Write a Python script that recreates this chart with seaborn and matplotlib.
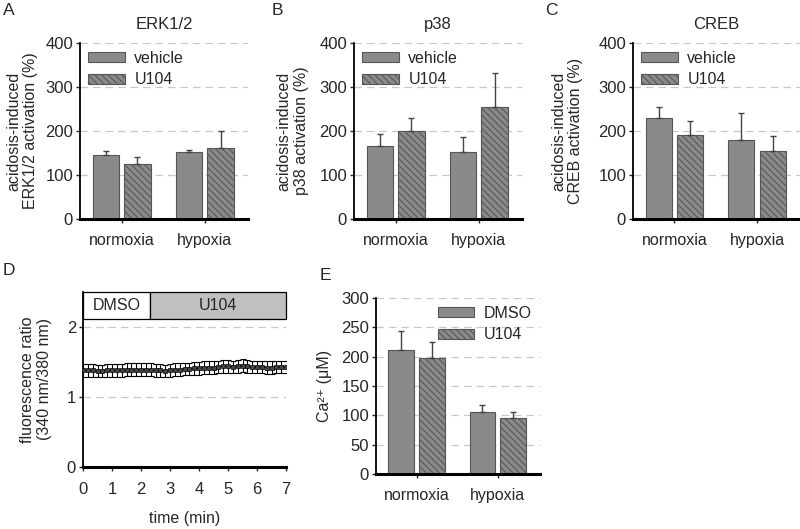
import numpy as np
import pandas as pd
import matplotlib
matplotlib.use('Agg')
import matplotlib.pyplot as plt
from matplotlib.patches import Patch, Rectangle
import seaborn as sns

# bar panels (A-C): acidosis-induced activation (%), mean and upper SEM
conditions = ['normoxia', 'hypoxia']
erk_vehicle = [145, 152]
erk_vehicle_err = [9, 4]
erk_u104 = [125, 161]
erk_u104_err = [15, 39]

p38_vehicle = [167, 152]
p38_vehicle_err = [27, 34]
p38_u104 = [199, 255]
p38_u104_err = [30, 76]

creb_vehicle = [230, 180]
creb_vehicle_err = [24, 61]
creb_u104 = [192, 155]
creb_u104_err = [31, 33]

# panel E: Ca2+ (uM)
ca_dmso = [211, 105]
ca_dmso_err = [33, 12]
ca_u104 = [197, 96]
ca_u104_err = [28, 10]

# panel D: fluorescence ratio time course (every 10 s)
time_min = [0.0, 0.167, 0.333, 0.5, 0.667, 0.833, 1.0, 1.167, 1.333, 1.5, 1.667,
            1.833, 2.0, 2.167, 2.333, 2.5, 2.667, 2.833, 3.0, 3.167, 3.333, 3.5,
            3.667, 3.833, 4.0, 4.167, 4.333, 4.5, 4.667, 4.833, 5.0, 5.167, 5.333,
            5.5, 5.667, 5.833, 6.0, 6.167, 6.333, 6.5, 6.667, 6.833, 7.0]
ratio = [1.38, 1.38, 1.38, 1.37, 1.37, 1.38, 1.38, 1.38, 1.38, 1.39, 1.39,
         1.39, 1.39, 1.39, 1.39, 1.38, 1.38, 1.37, 1.38, 1.39, 1.39, 1.40,
         1.40, 1.41, 1.41, 1.42, 1.42, 1.42, 1.43, 1.44, 1.44, 1.43, 1.44,
         1.45, 1.44, 1.43, 1.43, 1.43, 1.42, 1.42, 1.43, 1.43, 1.43]
ratio_err = [0.09, 0.09, 0.09, 0.09, 0.09, 0.09, 0.09, 0.09, 0.09, 0.09, 0.09,
             0.09, 0.09, 0.09, 0.09, 0.09, 0.09, 0.09, 0.09, 0.09, 0.09, 0.09,
             0.09, 0.09, 0.09, 0.09, 0.09, 0.09, 0.09, 0.09, 0.09, 0.09, 0.09,
             0.09, 0.09, 0.09, 0.09, 0.09, 0.09, 0.09, 0.09, 0.09, 0.09]
phases = ['DMSO', 'U104']
phase_start = [0, 2.3]
phase_end = [2.3, 7]

sns.set_style('white')
plt.rcParams['font.family'] = ['Liberation Sans', 'DejaVu Sans']
plt.rcParams['hatch.linewidth'] = 0.75

BAR = '#8a8a8a'
EDGE = '#555555'
HATCH = '\\\\\\\\\\'
FS = 11.5
TICK_FS = 12

fig = plt.figure(figsize=(8, 5.29), dpi=100)
W, H = 800, 529


def px_axes(left, top, width, height):
    return fig.add_axes([left / W, 1 - (top + height) / H, width / W, height / H])


def style_axes(ax):
    for s in ['top', 'right']:
        ax.spines[s].set_visible(False)
    ax.spines['left'].set_linewidth(1.3)
    ax.spines['left'].set_color('black')
    ax.spines['bottom'].set_linewidth(2.2)
    ax.spines['bottom'].set_color('black')
    ax.yaxis.grid(True, linestyle=(0, (6, 4)), color='#c8c8c8', linewidth=0.9)
    ax.set_axisbelow(True)
    ax.tick_params(axis='y', which='major', left=True, length=3, width=1, pad=2, labelsize=TICK_FS)
    ax.tick_params(axis='x', which='major', bottom=True, length=3, width=1, pad=7, labelsize=FS)


def bar_panel(ax, v1, e1, v2, e2, labels, yticks, ylabel, title, legend_loc):
    df = pd.DataFrame({
        'condition': conditions + conditions,
        'treatment': [labels[0]] * 2 + [labels[1]] * 2,
        'value': v1 + v2,
    })
    sns.barplot(data=df, x='condition', y='value', hue='treatment', order=conditions,
                hue_order=labels, palette=[BAR, BAR], width=0.76, gap=0.17,
                edgecolor=EDGE, linewidth=0.8, errorbar=None, legend=False, ax=ax)
    for container, errs, hatched in zip(ax.containers, [e1, e2], [False, True]):
        for bar, e in zip(container, errs):
            if hatched:
                bar.set_hatch(HATCH)
            x = bar.get_x() + bar.get_width() / 2
            ax.errorbar(x, bar.get_height(), yerr=[[0], [e]], fmt='none',
                        ecolor='#444444', elinewidth=1, capsize=2.2, capthick=1, zorder=3)
    style_axes(ax)
    ax.set_xlim(-0.5, 1.52)
    ax.set_ylim(0, yticks[-1])
    ax.set_yticks(yticks)
    ax.set_xlabel('')
    ax.set_ylabel(ylabel, fontsize=FS, linespacing=1.15)
    if title:
        ax.set_title(title, fontsize=12, pad=10)
    handles = [Patch(facecolor=BAR, edgecolor=EDGE, linewidth=0.8),
               Patch(facecolor=BAR, edgecolor=EDGE, linewidth=0.8, hatch=HATCH)]
    ax.legend(handles, labels, loc=legend_loc, frameon=False, fontsize=FS,
              handlelength=2.3, handleheight=0.6, handletextpad=0.6,
              labelspacing=0.4, borderaxespad=0.2, borderpad=0.3)


axA = px_axes(80, 43, 168, 176)
bar_panel(axA, erk_vehicle, erk_vehicle_err, erk_u104, erk_u104_err, ['vehicle', 'U104'],
          [0, 100, 200, 300, 400], 'acidosis-induced\nERK1/2 activation (%)', 'ERK1/2', 'upper left')
axA.yaxis.set_label_coords(-0.25, 0.5)

axB = px_axes(354, 43, 168, 176)
bar_panel(axB, p38_vehicle, p38_vehicle_err, p38_u104, p38_u104_err, ['vehicle', 'U104'],
          [0, 100, 200, 300, 400], 'acidosis-induced\np38 activation (%)', 'p38', 'upper left')
axB.yaxis.set_label_coords(-0.27, 0.5)

axC = px_axes(633, 43, 167, 176)
bar_panel(axC, creb_vehicle, creb_vehicle_err, creb_u104, creb_u104_err, ['vehicle', 'U104'],
          [0, 100, 200, 300, 400], 'acidosis-induced\nCREB activation (%)', 'CREB', 'upper left')
axC.yaxis.set_label_coords(-0.30, 0.5)

axE = px_axes(376, 298, 164, 176)
bar_panel(axE, ca_dmso, ca_dmso_err, ca_u104, ca_u104_err, ['DMSO', 'U104'],
          [0, 50, 100, 150, 200, 250, 300], 'Ca²⁺ (μM)', None, 'upper right')
axE.yaxis.set_label_coords(-0.27, 0.5)

# panel D
axD = px_axes(83, 292, 203, 175)
axD.errorbar(time_min, ratio, yerr=ratio_err, fmt='none', ecolor='black',
             elinewidth=0.8, capsize=2.2, capthick=0.8, zorder=3)
sns.lineplot(x=time_min, y=ratio, ax=axD, color='black', linewidth=0.8, marker='s',
             markersize=3.5, markerfacecolor='#444444', markeredgecolor='black',
             markeredgewidth=0.5, zorder=4)
style_axes(axD)
axD.tick_params(axis='x', pad=8, labelsize=TICK_FS)
axD.set_xlim(0, 7)
axD.set_ylim(0, 2.5)
axD.set_xticks(range(0, 8))
axD.set_yticks([0, 1, 2])
for name, x0, x1 in zip(phases, phase_start, phase_end):
    face = 'white' if name == 'DMSO' else '#c0c0c0'
    axD.add_patch(Rectangle((x0, 2.12), x1 - x0, 0.38, facecolor=face, edgecolor='black',
                            linewidth=0.9, zorder=5, clip_on=False))
    axD.text((x0 + x1) / 2, 2.31, name, ha='center', va='center', fontsize=FS, zorder=6)
axD.set_ylabel('fluorescence ratio\n(340 nm/380 nm)', fontsize=FS, linespacing=1.15)
axD.yaxis.set_label_coords(-0.153, 0.5)
axD.set_xlabel('time (min)', fontsize=FS)
axD.xaxis.set_label_coords(0.5, -0.25)
axD.xaxis.label.set_va('top')

# panel letters
for letter, x, y in [('A', 3, 3), ('B', 272, 3), ('C', 545, 3), ('D', 3, 263), ('E', 320, 268)]:
    fig.text(x / W, 1 - y / H, letter, fontsize=12.5, ha='left', va='top')

fig.savefig('out.png', dpi=100)
